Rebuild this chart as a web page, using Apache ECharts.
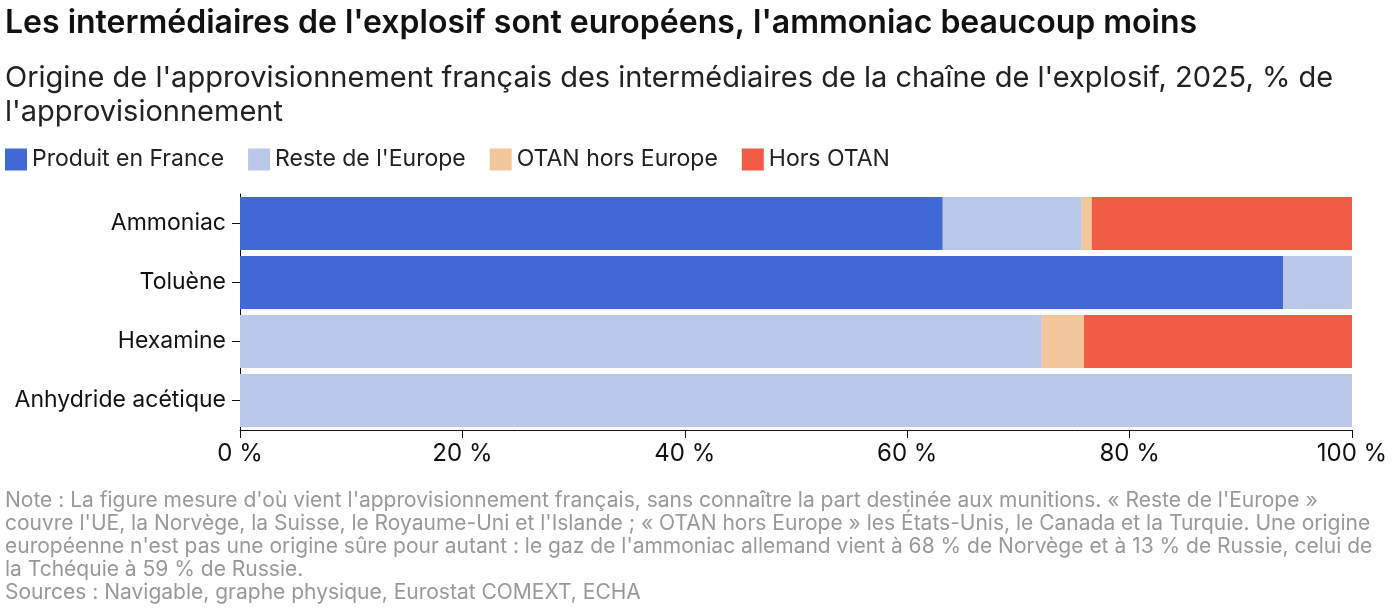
<!DOCTYPE html>
<html><head><meta charset="utf-8">
<script src="https://cdn.jsdelivr.net/npm/echarts@6/dist/echarts.min.js"></script>
<style>html,body{margin:0;padding:0;background:#fff}#c{width:1400px;height:612px}</style>
</head><body><div id="c"></div>
<script>
var categories = ['Ammoniac', 'Toluène', 'Hexamine', 'Anhydride acétique'];
var france = [63.2, 93.8, 0, 0];
var europe = [12.5, 6.2, 72.1, 100];
var otan = [0.9, 0, 3.8, 0];
var horsOtan = [23.4, 0, 24.1, 0];
var seriesNames = ['Produit en France', "Reste de l'Europe", 'OTAN hors Europe', 'Hors OTAN'];
var colors = ['#4169d6', '#bbc7e8', '#f2c79c', '#f05c45'];

var chart = echarts.init(document.getElementById('c'));
var font = 'Inter';
var note = "Note : La figure mesure d'où vient l'approvisionnement français, sans connaître la part destinée aux munitions. « Reste de l'Europe »\ncouvre l'UE, la Norvège, la Suisse, le Royaume-Uni et l'Islande ; « OTAN hors Europe » les États-Unis, le Canada et la Turquie. Une origine\neuropéenne n'est pas une origine sûre pour autant : le gaz de l'ammoniac allemand vient à 68 % de Norvège et à 13 % de Russie, celui de\nla Tchéquie à 59 % de Russie.\nSources : Navigable, graphe physique, Eurostat COMEXT, ECHA";
var option = {
    textStyle: {fontFamily: font},
    title: [
        {text: "Les intermédiaires de l'explosif sont européens, l'ammoniac beaucoup moins", left: 0, top: 2,
            textStyle: {fontFamily: font, fontSize: 32, fontWeight: 600, color: '#111'}},
        {text: "Origine de l'approvisionnement français des intermédiaires de la chaîne de l'explosif, 2025, % de\nl'approvisionnement", left: 0, top: 56,
            textStyle: {fontFamily: font, fontSize: 29, fontWeight: 400, color: '#222', lineHeight: 34}},
        {text: note, left: 0, top: 484,
            textStyle: {fontFamily: font, fontSize: 21, fontWeight: 400, color: '#999', lineHeight: 23}}
    ],
    legend: {
        left: 0, top: 143, itemWidth: 22, itemHeight: 22, itemGap: 24, icon: 'rect',
        textStyle: {fontFamily: font, fontSize: 23, color: '#222'},
        data: seriesNames
    },
    grid: {left: 240, right: 48, top: 194, height: 236},
    xAxis: {
        type: 'value', min: 0, max: 100, interval: 20,
        axisLine: {show: true, lineStyle: {color: '#111'}},
        axisTick: {show: true, length: 8, lineStyle: {color: '#111'}},
        splitLine: {show: false},
        axisLabel: {formatter: '{value} %', fontSize: 24, color: '#111', margin: 12}
    },
    yAxis: {
        type: 'category', data: categories, inverse: true,
        axisLine: {show: true, lineStyle: {color: '#111'}},
        axisTick: {show: true, length: 8, alignWithLabel: true, lineStyle: {color: '#111'}},
        axisLabel: {fontSize: 23, color: '#111', margin: 14}
    },
    series: [france, europe, otan, horsOtan].map(function (d, i) {
        return {name: seriesNames[i], type: 'bar', stack: 's', data: d, barCategoryGap: '10%',
            itemStyle: {color: colors[i]}};
    })
};
chart.setOption(option);
</script></body></html>
